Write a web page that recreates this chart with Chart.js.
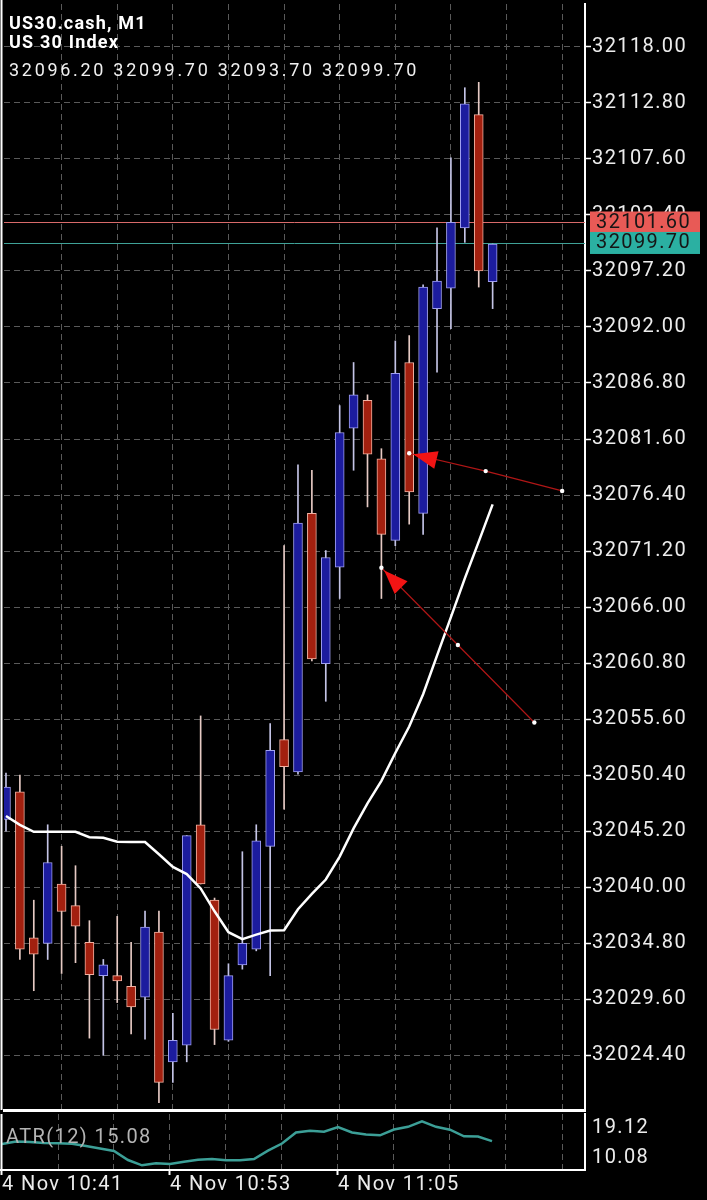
<!DOCTYPE html>
<html>
<head>
<meta charset="utf-8">
<script src="https://cdn.jsdelivr.net/npm/chart.js@4.4.1/dist/chart.umd.min.js"></script>
<style>
  html, body { margin: 0; padding: 0; background: #000; overflow: hidden; }
  #wrap { position: relative; width: 707px; height: 1200px; background: #000; }
  canvas { position: absolute; left: 0; }
  #main { top: 0; }
  #atr  { top: 1113px; }
</style>
</head>
<body>
<div id="wrap">
  <canvas id="main" width="707" height="1114"></canvas>
  <canvas id="atr" width="707" height="87"></canvas>
</div>
<script>
// ── Data ─────────────────────────────────────────────────────────
const HEADER = ['US30.cash, M1', 'US 30 Index', '32096.20 32099.70 32093.70 32099.70'];

const PRICE_TICKS = [32118.00, 32112.80, 32107.60, 32102.40, 32097.20, 32092.00, 32086.80,
  32081.60, 32076.40, 32071.20, 32066.00, 32060.80, 32055.60, 32050.40, 32045.20,
  32040.00, 32034.80, 32029.60, 32024.40];
const ATR_TICKS = [19.12, 10.08];
const TIME_LABELS = ['4 Nov 10:41', '4 Nov 10:53', '4 Nov 11:05'];
const TIME_LABEL_AT = [0, 12, 24];          // bar index of each time label
const GRID_AT = [4, 8, 12, 16, 20, 24, 28, 32, 36, 40];

// one entry per M1 bar, 10:41 … 11:16
const OPEN  = [32046.3, 32048.85, 32035.3, 32034.8, 32040.3, 32038.3, 32034.9, 32031.8, 32031.8, 32030.8,
  32029.8, 32035.85, 32023.8, 32025.35, 32045.8, 32038.8, 32025.8, 32032.8, 32034.25, 32043.8,
  32053.7, 32050.7, 32074.7, 32060.74, 32069.7, 32082.6, 32085.2, 32079.75, 32072.2, 32088.7,
  32074.7, 32093.7, 32095.6, 32101.2, 32111.7, 32096.2];
const HIGH  = [32050.6, 32050.4, 32038.8, 32045.8, 32043.8, 32042.0, 32036.9, 32033.3, 32037.3, 32034.9,
  32037.8, 32037.8, 32028.3, 32044.8, 32055.9, 32039.0, 32032.9, 32043.3, 32045.8, 32055.2,
  32071.7, 32079.2, 32078.7, 32071.25, 32084.7, 32088.7, 32085.7, 32080.7, 32090.7, 32091.2,
  32095.9, 32101.2, 32107.7, 32114.2, 32114.7, 32099.7];
const LOW   = [32045.2, 32033.3, 32030.4, 32033.3, 32032.0, 32033.0, 32026.0, 32024.4, 32029.3, 32026.4,
  32025.9, 32020.0, 32021.9, 32023.8, 32040.3, 32025.4, 32025.7, 32032.4, 32034.1, 32031.8,
  32047.25, 32050.5, 32061.0, 32057.26, 32066.8, 32078.7, 32075.3, 32066.8, 32071.7, 32073.7,
  32072.75, 32087.8, 32091.85, 32099.85, 32095.7, 32093.7];
const CLOSE = [32049.3, 32034.25, 32033.8, 32042.3, 32037.75, 32036.4, 32031.9, 32032.8, 32031.3, 32028.9,
  32036.3, 32021.9, 32025.8, 32044.8, 32040.3, 32026.8, 32031.8, 32034.8, 32044.3, 32052.7,
  32051.2, 32073.8, 32061.2, 32070.6, 32082.2, 32085.7, 32080.2, 32072.75, 32087.7, 32076.7,
  32095.7, 32096.25, 32101.7, 32112.7, 32097.2, 32099.7];

const MA = [32046.62, 32045.79, 32045.15, 32045.15, 32045.15, 32045.15, 32044.65, 32044.60, 32044.23, 32044.20,
  32044.20, 32043.06, 32041.89, 32041.22, 32039.89, 32037.77, 32035.83, 32035.19, 32035.60, 32035.99,
  32036.02, 32037.96, 32039.39, 32040.72, 32042.84, 32045.47, 32047.78, 32049.88, 32052.46, 32054.92,
  32057.92, 32061.50, 32065.07, 32068.66, 32072.08, 32075.53];

const ATR = [14.22, 14.98, 14.83, 14.52, 14.43, 14.28, 13.60, 12.84, 12.07, 9.31,
  7.69, 8.33, 8.09, 8.79, 9.37, 9.65, 9.22, 9.22, 9.62, 12.16,
  14.37, 17.74, 18.26, 17.96, 19.43, 17.74, 17.10, 16.88, 18.66, 19.49,
  21.17, 19.49, 18.60, 16.58, 16.52, 15.08];
const ATR_NAME = 'ATR(12) 15.08';

const ASK = 32101.60;
const BID = 32099.70;

// drawn trend-arrows: [bar index, price] of tip dot, middle dot, end dot
const ARROW_A = [[29, 32080.28], [34.5, 32078.62], [40, 32076.78]];
const ARROW_B = [[27, 32069.65], [32.5, 32062.48], [38, 32055.29]];

// ── Style ─────────────────────────────────────────────────────────
const X_MIN = -2 / 14, X_MAX = 583 / 14;
const Y_MIN = 32019.33, Y_MAX = 32121.97;
const ATR_MIN = 6.25, ATR_MAX = 23.41;

const BULL = '#1c1c9e', BULL_EDGE = '#a0a0f0', BULL_WICK = '#c4c4e6';
const BEAR = '#a2200f', BEAR_EDGE = '#f2b2a2', BEAR_WICK = '#e6cac4';
const GRID = '#5a5a5a';
const DASH = [6, 4];
const FONT = 'Roboto';

const bars = OPEN.map((_, i) => i);
const isBull = i => CLOSE[i] >= OPEN[i];

const spacing = {
  id: 'spacing',
  beforeDraw(chart) { chart.ctx.letterSpacing = '1.4px'; },
};

function arrowHead(ctx, xs, ys, pts) {
  const x0 = xs.getPixelForValue(pts[0][0]), y0 = ys.getPixelForValue(pts[0][1]);
  const x1 = xs.getPixelForValue(pts[2][0]), y1 = ys.getPixelForValue(pts[2][1]);
  const len = Math.hypot(x1 - x0, y1 - y0);
  const ux = (x1 - x0) / len, uy = (y1 - y0) / len;
  const tx = x0 + ux * 4, ty = y0 + uy * 4;
  const bx = tx + ux * 24, by = ty + uy * 24;
  ctx.beginPath();
  ctx.moveTo(tx, ty);
  ctx.lineTo(bx - uy * 9, by + ux * 9);
  ctx.lineTo(bx + uy * 9, by - ux * 9);
  ctx.closePath();
  ctx.fillStyle = '#f21414';
  ctx.fill();
}

const mainDecor = {
  id: 'mainDecor',
  beforeDatasetsDraw(chart) {
    const { ctx, chartArea: a, scales: { y } } = chart;
    ctx.save();
    ctx.lineWidth = 1;
    [[ASK, '#d86a6a'], [BID, '#3fa298']].forEach(([v, c]) => {
      const py = Math.round(y.getPixelForValue(v)) - 0.5;
      ctx.strokeStyle = c;
      ctx.beginPath(); ctx.moveTo(a.left, py); ctx.lineTo(a.right, py); ctx.stroke();
    });
    ctx.restore();
  },
  afterDatasetsDraw(chart) {
    const { ctx, scales: { x, y } } = chart;
    ctx.save();
    arrowHead(ctx, x, y, ARROW_A);
    arrowHead(ctx, x, y, ARROW_B);
    ctx.restore();
  },
  afterDraw(chart) {
    const { ctx, chartArea: a, scales: { y } } = chart;
    ctx.save();
    // left frame line
    ctx.strokeStyle = '#fff'; ctx.lineWidth = 2;
    ctx.beginPath(); ctx.moveTo(1.5, 0); ctx.lineTo(1.5, a.bottom); ctx.stroke();

    // header
    ctx.fillStyle = '#fff';
    ctx.textBaseline = 'alphabetic';
    ctx.textAlign = 'left';
    ctx.letterSpacing = '1.2px';
    ctx.font = `bold 18px ${FONT}`;
    ctx.fillText(HEADER[0], 9, 29);
    ctx.fillText(HEADER[1], 9, 48);
    ctx.letterSpacing = '2.7px';
    ctx.font = `18px ${FONT}`;
    ctx.fillStyle = '#f0f0f0';
    ctx.fillText(HEADER[2], 9, 76);

    // ask / bid boxes on the price scale
    ctx.letterSpacing = '1.4px';
    ctx.font = `20px ${FONT}`;
    ctx.textBaseline = 'middle';
    [[ASK, '#e85a56', -11, 10], [BID, '#2bb0a2', -11, 11]].forEach(([v, c, t, b]) => {
      const py = y.getPixelForValue(v) - 1;
      ctx.fillStyle = c;
      ctx.fillRect(590, py + t, 110, b - t);
      ctx.fillStyle = '#161616';
      ctx.fillText(v.toFixed(2), 596, py + 0.5);
    });
    ctx.restore();
  },
};

new Chart(document.getElementById('main'), {
  type: 'bar',
  data: {
    datasets: [
      {
        label: 'wick',
        data: bars.map(i => ({ x: i, y: [LOW[i], HIGH[i]] })),
        backgroundColor: c => isBull(c.dataIndex) ? BULL_WICK : BEAR_WICK,
        barThickness: 1,
        grouped: false,
        order: 5,
      },
      {
        label: 'body',
        data: bars.map(i => ({ x: i, y: [OPEN[i], CLOSE[i]] })),
        backgroundColor: c => isBull(c.dataIndex) ? BULL : BEAR,
        borderColor: c => isBull(c.dataIndex) ? BULL_EDGE : BEAR_EDGE,
        borderWidth: 1,
        borderSkipped: false,
        barThickness: 9,
        grouped: false,
        order: 4,
      },
      {
        type: 'line',
        label: 'MA',
        data: bars.map(i => ({ x: i, y: MA[i] })),
        borderColor: '#ffffff',
        borderWidth: 2.5,
        pointRadius: 0,
        tension: 0,
        order: 3,
      },
      ...[ARROW_A, ARROW_B].map((pts, k) => ({
        type: 'line',
        label: 'arrow' + k,
        data: pts.map(p => ({ x: p[0], y: p[1] })),
        borderColor: '#b01616',
        borderWidth: 1.2,
        pointRadius: 2.2,
        pointBorderWidth: 0,
        pointBackgroundColor: '#ffffff',
        order: 1,
      })),
    ],
  },
  options: {
    responsive: false,
    animation: false,
    devicePixelRatio: 1,
    layout: { padding: 0 },
    plugins: { legend: { display: false }, tooltip: { enabled: false } },
    scales: {
      x: {
        type: 'linear',
        offset: false,
        min: X_MIN,
        max: X_MAX,
        afterBuildTicks: s => { s.ticks = GRID_AT.map(v => ({ value: v })); },
        afterFit: s => { s.height = 1; s.paddingLeft = 0; s.paddingRight = 0; },
        ticks: { display: false },
        grid: { color: GRID, drawTicks: false, offset: false },
        border: { display: true, color: '#fff', width: 3, dash: DASH },
      },
      y: {
        position: 'right',
        min: Y_MIN,
        max: Y_MAX,
        afterBuildTicks: s => { s.ticks = PRICE_TICKS.map(v => ({ value: v })); },
        afterFit: s => { s.width = 122; s.paddingTop = 0; s.paddingBottom = 0; },
        ticks: {
          color: '#ececec',
          font: { family: FONT, size: 20 },
          padding: 1,
          autoSkip: false,
          callback: v => v.toFixed(2),
        },
        grid: { color: GRID, tickColor: '#fff', tickLength: 6, tickWidth: 1.5 },
        border: { display: true, color: '#fff', width: 2, dash: DASH },
      },
    },
  },
  plugins: [spacing, mainDecor],
});

// ── ATR pane + time axis ─────────────────────────────────────────
const atrDecor = {
  id: 'atrDecor',
  afterDraw(chart) {
    const { ctx, chartArea: a } = chart;
    ctx.save();
    ctx.strokeStyle = '#fff'; ctx.lineWidth = 2;
    ctx.beginPath(); ctx.moveTo(1.5, a.top); ctx.lineTo(1.5, a.bottom); ctx.stroke();
    ctx.letterSpacing = '1.4px';
    ctx.font = `20px ${FONT}`;
    ctx.fillStyle = '#b4b4b4';
    ctx.textBaseline = 'alphabetic';
    ctx.fillText(ATR_NAME, 6, 30);
    ctx.restore();
  },
};

new Chart(document.getElementById('atr'), {
  type: 'line',
  data: {
    datasets: [{
      label: 'ATR',
      data: bars.map(i => ({ x: i, y: ATR[i] })),
      borderColor: '#3c9f97',
      borderWidth: 2.5,
      pointRadius: 0,
      tension: 0,
    }],
  },
  options: {
    responsive: false,
    animation: false,
    devicePixelRatio: 1,
    layout: { padding: { top: 1 } },
    plugins: { legend: { display: false }, tooltip: { enabled: false } },
    scales: {
      x: {
        type: 'linear',
        min: X_MIN,
        max: X_MAX,
        afterBuildTicks: s => { s.ticks = [0, ...GRID_AT].map(v => ({ value: v })); },
        afterFit: s => { s.height = 30; s.paddingLeft = 0; s.paddingRight = 0; },
        ticks: {
          color: '#ececec',
          font: { family: FONT, size: 20, lineHeight: 1 },
          padding: 0,
          align: 'start',
          maxRotation: 0,
          autoSkip: false,
          callback: v => {
            const k = TIME_LABEL_AT.indexOf(v);
            return k < 0 ? '' : TIME_LABELS[k];
          },
        },
        grid: {
          color: c => (c.tick && c.tick.value === 0) ? 'transparent' : GRID,
          tickColor: c => (c.tick && TIME_LABEL_AT.includes(c.tick.value)) ? '#fff' : 'transparent',
          tickLength: 5,
          tickWidth: 2,
        },
        border: { display: true, color: '#fff', width: 2, dash: DASH },
      },
      y: {
        position: 'right',
        min: ATR_MIN,
        max: ATR_MAX,
        afterBuildTicks: s => { s.ticks = ATR_TICKS.map(v => ({ value: v })); },
        afterFit: s => { s.width = 122; s.paddingTop = 0; s.paddingBottom = 0; },
        ticks: {
          color: '#ececec',
          font: { family: FONT, size: 20 },
          padding: 7,
          autoSkip: false,
          callback: v => v.toFixed(2),
        },
        grid: { color: 'transparent', drawTicks: false },
        border: { display: true, color: '#fff', width: 2 },
      },
    },
  },
  plugins: [spacing, atrDecor],
});
</script>
</body>
</html>
